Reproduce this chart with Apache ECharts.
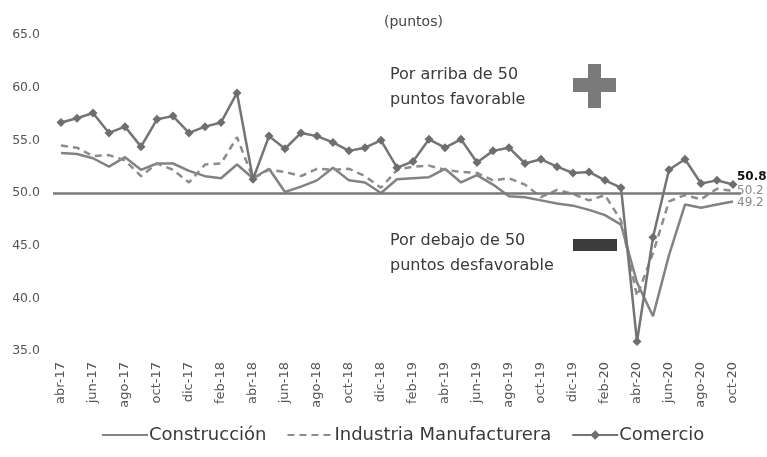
<!DOCTYPE html>
<html>
<head>
<meta charset="utf-8">
<script src="https://cdn.jsdelivr.net/npm/echarts@6/dist/echarts.min.js"></script>
<style>
html,body{margin:0;padding:0;background:#fff;}
#chart{width:767px;height:457px;}
</style>
</head>
<body>
<div id="chart"></div>
<script>
var categories = [
  'abr-17','may-17','jun-17','jul-17','ago-17','sep-17','oct-17','nov-17','dic-17',
  'ene-18','feb-18','mar-18','abr-18','may-18','jun-18','jul-18','ago-18','sep-18','oct-18','nov-18','dic-18',
  'ene-19','feb-19','mar-19','abr-19','may-19','jun-19','jul-19','ago-19','sep-19','oct-19','nov-19','dic-19',
  'ene-20','feb-20','mar-20','abr-20','may-20','jun-20','jul-20','ago-20','sep-20','oct-20'
];
var construccion = [
  53.8, 53.7, 53.3, 52.5, 53.4, 52.2, 52.8, 52.8, 52.1,
  51.6, 51.4, 52.7, 51.4, 52.3, 50.1, 50.6, 51.2, 52.4, 51.2, 51.0, 50.0,
  51.3, 51.4, 51.5, 52.3, 51.0, 51.7, 50.8, 49.7, 49.6, 49.3, 49.0, 48.8,
  48.4, 47.9, 47.0, 41.5, 38.3, 44.1, 48.9, 48.6, 48.9, 49.2
];
var industria = [
  54.5, 54.3, 53.5, 53.6, 53.1, 51.6, 52.8, 52.2, 51.0,
  52.7, 52.8, 55.3, 51.4, 52.2, 52.0, 51.6, 52.3, 52.2, 52.3, 51.6, 50.5,
  52.2, 52.5, 52.6, 52.2, 52.0, 51.9, 51.2, 51.4, 50.8, 49.6, 50.3, 49.9,
  49.3, 49.8, 47.4, 40.2, 44.3, 49.2, 49.8, 49.4, 50.4, 50.2
];
var comercio = [
  56.7, 57.1, 57.6, 55.7, 56.3, 54.4, 57.0, 57.3, 55.7,
  56.3, 56.7, 59.5, 51.3, 55.4, 54.2, 55.7, 55.4, 54.8, 54.0, 54.3, 55.0,
  52.4, 53.0, 55.1, 54.3, 55.1, 52.9, 54.0, 54.3, 52.8, 53.2, 52.5, 51.9,
  52.0, 51.2, 50.5, 35.9, 45.8, 52.2, 53.2, 50.9, 51.2, 50.8
];
var yTicks = { min: 35, max: 65, interval: 5 };
var threshold = 50;

var FONT = 'DejaVu Sans';
var chart = echarts.init(document.getElementById('chart'), null, { renderer: 'canvas' });

chart.setOption({
  backgroundColor: '#ffffff',
  animation: false,
  textStyle: { fontFamily: FONT },
  grid: { left: 53, right: 26, top: 35, height: 316 },
  legend: {
    bottom: 8,
    left: 96,
    itemWidth: 46,
    itemHeight: 12,
    itemGap: 20,
    textStyle: { fontFamily: FONT, fontSize: 18, color: '#3a3a3a', padding: [0, 0, 0, -4] },
    data: [
      { name: 'Construcción', itemStyle: { opacity: 0 } },
      { name: 'Industria Manufacturera', itemStyle: { opacity: 0 } },
      { name: 'Comercio' }
    ]
  },
  xAxis: {
    type: 'category',
    data: categories,
    boundaryGap: true,
    axisLine: { show: false },
    axisTick: { show: false },
    axisLabel: {
      interval: 1,
      rotate: 90,
      margin: 11,
      fontSize: 13,
      color: '#555555',
      fontFamily: FONT
    }
  },
  yAxis: {
    type: 'value',
    min: yTicks.min,
    max: yTicks.max,
    interval: yTicks.interval,
    splitLine: { show: false },
    axisLine: { show: false },
    axisTick: { show: false },
    axisLabel: {
      margin: 13,
      fontSize: 12.5,
      color: '#555555',
      fontFamily: FONT,
      formatter: function (v) { return v.toFixed(1); }
    }
  },
  series: [
    {
      name: 'Construcción',
      type: 'line',
      data: construccion,
      symbol: 'none',
      color: '#828282',
      lineStyle: { color: '#828282', width: 2.5 },
      endLabel: {
        show: true,
        formatter: function (p) { return p.value.toFixed(1); },
        color: '#8a8a8a',
        fontSize: 12,
        fontFamily: FONT,
        distance: 4,
        offset: [0, 1]
      },
      z: 3
    },
    {
      name: 'Industria Manufacturera',
      type: 'line',
      data: industria,
      symbol: 'none',
      color: '#8c8c8c',
      lineStyle: { color: '#8c8c8c', width: 2.5, type: [7, 5] },
      endLabel: {
        show: true,
        formatter: function (p) { return p.value.toFixed(1); },
        color: '#8a8a8a',
        fontSize: 12,
        fontFamily: FONT,
        distance: 4,
        offset: [0, 0]
      },
      z: 3
    },
    {
      name: 'Comercio',
      type: 'line',
      data: comercio,
      symbol: 'diamond',
      symbolSize: 9,
      showAllSymbol: true,
      color: '#6e6e6e',
      itemStyle: { color: '#6e6e6e' },
      lineStyle: { color: '#747474', width: 2.5 },
      endLabel: {
        show: true,
        formatter: function (p) { return p.value.toFixed(1); },
        color: '#111111',
        fontWeight: 'bold',
        fontSize: 12,
        fontFamily: FONT,
        distance: 4,
        offset: [0, -8]
      },
      markLine: {
        silent: true,
        symbol: 'none',
        label: { show: false },
        lineStyle: { color: '#7a7a7a', width: 2.5, type: 'solid' },
        data: [{ yAxis: threshold }]
      },
      z: 4
    }
  ],
  graphic: [
    { type: 'text', left: 384, top: 15, style: { text: '(puntos)', fontFamily: FONT, fontSize: 14, fill: '#444444' } },
    { type: 'text', left: 390, top: 62, style: { text: 'Por arriba de 50\npuntos favorable', fontFamily: FONT, fontSize: 16, lineHeight: 25, fill: '#3a3a3a' } },
    { type: 'text', left: 390, top: 228, style: { text: 'Por debajo de 50\npuntos desfavorable', fontFamily: FONT, fontSize: 16, lineHeight: 25, fill: '#3a3a3a' } },
    { type: 'rect', shape: { x: 588, y: 64, width: 13, height: 44 }, style: { fill: '#7a7a7a' } },
    { type: 'rect', shape: { x: 573, y: 78, width: 43, height: 14 }, style: { fill: '#7a7a7a' } },
    { type: 'rect', shape: { x: 573, y: 239, width: 44, height: 12 }, style: { fill: '#3c3c3c' } }
  ]
});
</script>
</body>
</html>
